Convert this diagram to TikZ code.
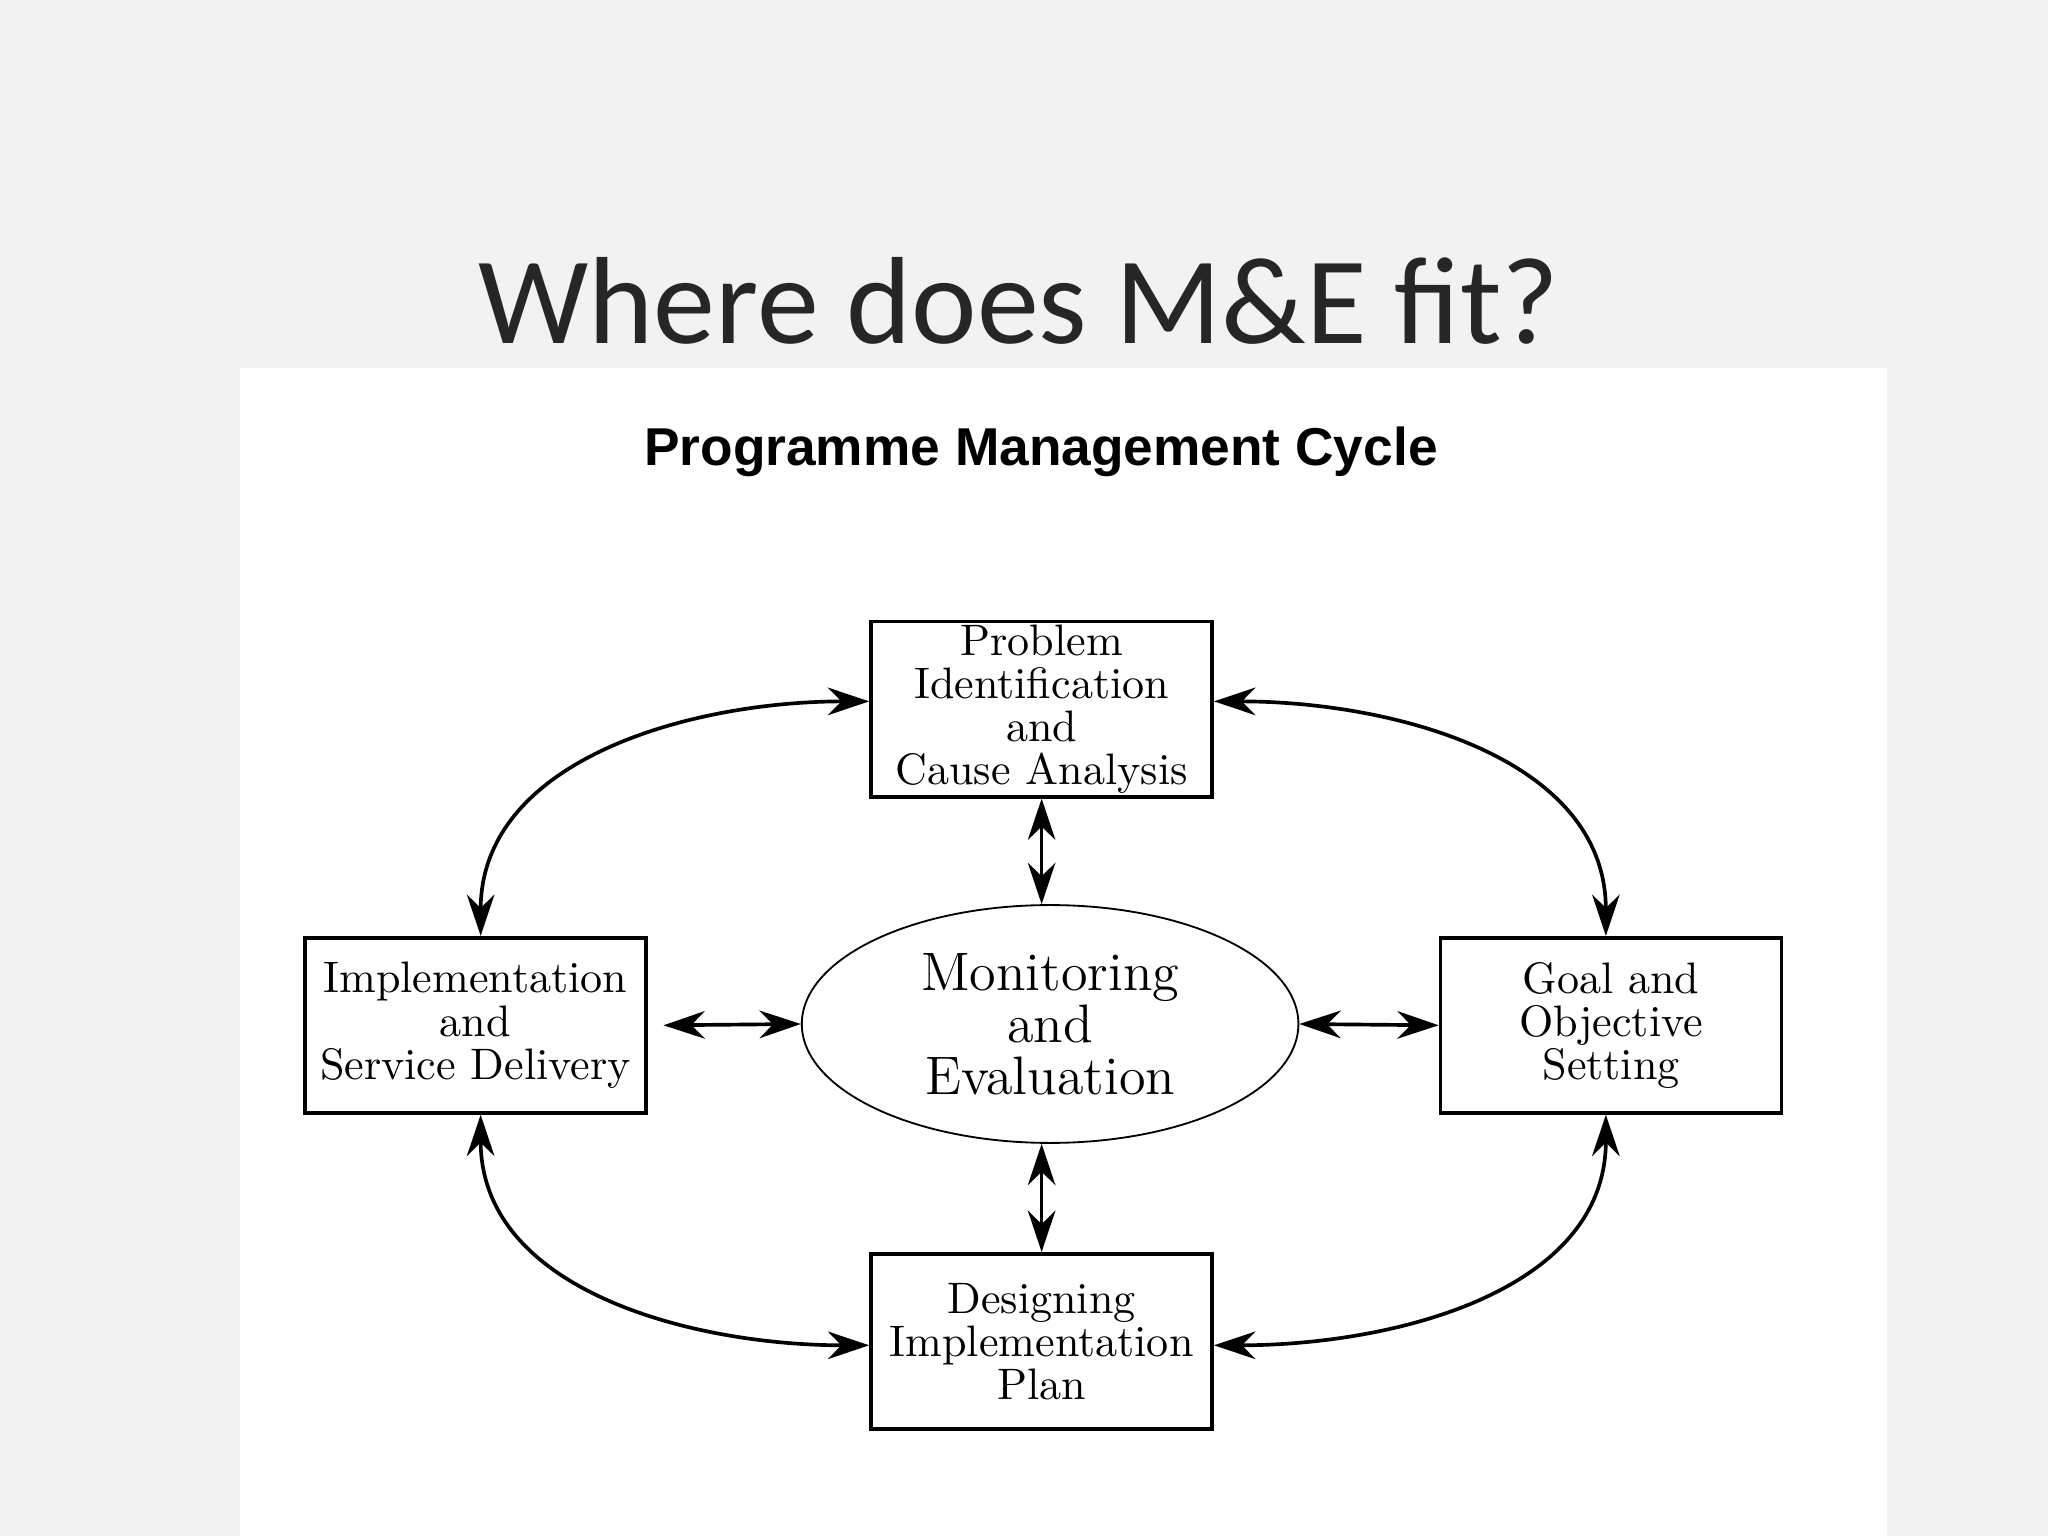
\documentclass[tikz,border=0pt]{standalone}
\usepackage{fontspec}
\newfontfamily\titlefont{Carlito}
\newfontfamily\subfont{Liberation Sans}
\usetikzlibrary{shapes.geometric,arrows.meta}
\begin{document}
\begin{tikzpicture}[x=0.01cm,y=-0.01cm,
  arr/.style={thick,{Stealth[length=9pt,width=6pt]}-{Stealth[length=9pt,width=6pt]}}]
\useasboundingbox (0,0) rectangle (1568,1176);
\fill[black!5] (0,0) rectangle (1568,1176);
\fill[white] (184,282) rectangle (1445,1176);
\node[font=\titlefont\fontsize{27}{30}\selectfont,text=black!85] (title) at (780,230) {Where does M\&E fit?};
\node[font=\subfont\bfseries\fontsize{11.6}{13}\selectfont] (sub) at (797,346) {Programme Management Cycle};
\tikzset{bx/.style={draw,thick,align=center,inner sep=0pt,minimum width=2.61cm,minimum height=1.34cm,font=\fontsize{9.6}{9.4}\selectfont}}
\node[bx] (P) at (797.5,543) {Problem\\Identification\\and\\Cause Analysis};
\node[bx] (I) at (364,785) {Implementation\\and\\Service Delivery};
\node[bx] (G) at (1233.5,785) {Goal and\\Objective\\Setting};
\node[bx] (D) at (797.5,1027) {Designing\\Implementation\\Plan};
\node[draw,ellipse,minimum width=3.8cm,minimum height=1.82cm,inner sep=0pt,align=center,font=\fontsize{11.8}{11.3}\selectfont] (M) at (804,784) {Monitoring\\and\\Evaluation};
\draw[arr] ([yshift=0.06cm]P.west) to[out=180,in=90,looseness=1] ([xshift=0.04cm]I.north);
\draw[arr] ([yshift=0.06cm]P.east) to[out=0,in=90,looseness=1] ([xshift=-0.04cm]G.north);
\draw[arr] ([xshift=0.04cm]I.south) to[out=-90,in=180,looseness=1] ([yshift=-0.03cm]D.west);
\draw[arr] ([xshift=-0.04cm]G.south) to[out=-90,in=0,looseness=1] ([yshift=-0.03cm]D.east);
\draw[arr] (P.south) -- (P.south |- M.north);
\draw[arr] (D.north) -- (D.north |- M.south);
\draw[arr] ([xshift=0.12cm]I.east) -- (M.west);
\draw[arr] (M.east) -- (G.west);
\end{tikzpicture}
\end{document}
